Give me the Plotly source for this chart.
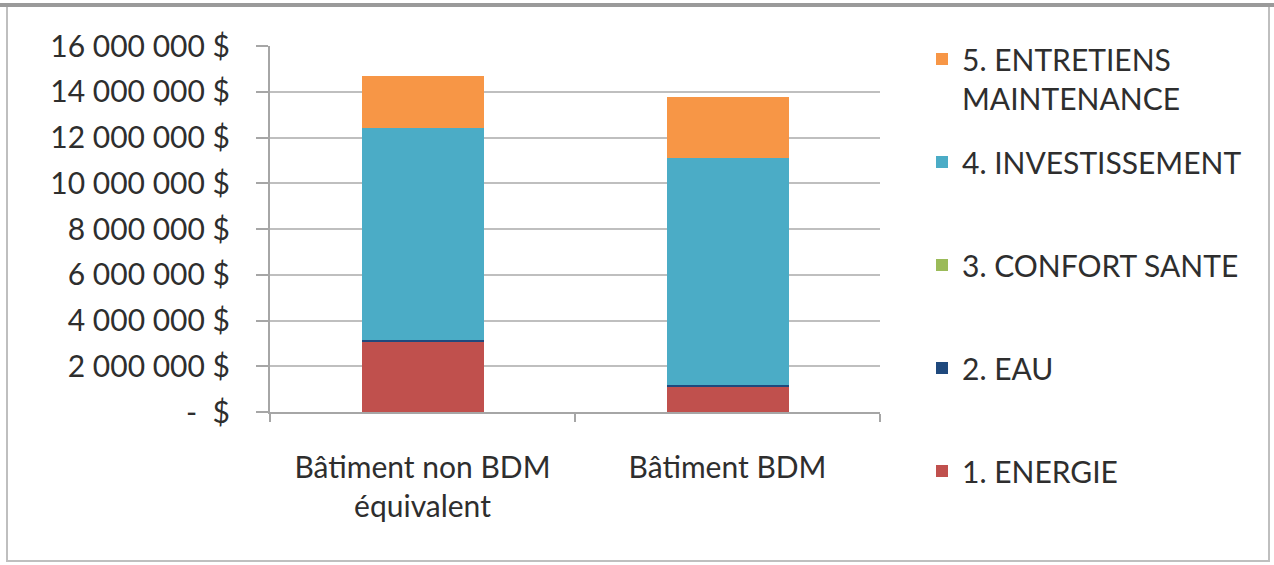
import plotly.graph_objects as go

categories = ["Bâtiment non BDM<br>équivalent", "Bâtiment BDM"]
energie = [3100000, 1110000]
eau = [60000, 50000]
confort = [0, 0]
investissement = [9270000, 9960000]
entretiens = [2270000, 2640000]

series_names = ["1. ENERGIE<br> ", "2. EAU<br> ", "3. CONFORT SANTE<br> ",
                "4. INVESTISSEMENT<br> ", "5. ENTRETIENS<br>MAINTENANCE"]
series_values = [energie, eau, confort, investissement, entretiens]
series_colors = ["#C0504D", "#1F497D", "#9BBB59", "#4BACC6", "#F79646"]

tick_vals = [0, 2000000, 4000000, 6000000, 8000000, 10000000, 12000000, 14000000, 16000000]
tick_text = ["-  $", "2 000 000 $", "4 000 000 $", "6 000 000 $", "8 000 000 $",
             "10 000 000 $", "12 000 000 $", "14 000 000 $", "16 000 000 $"]

FONT = "Lato"
TXT = "#2E2E2E"

fig = go.Figure()
n = len(series_names)
for i, (name, vals, col) in enumerate(zip(series_names, series_values, series_colors)):
    fig.add_trace(go.Bar(x=categories, y=vals, name=name, marker_color=col,
                         marker_line_width=0, legendgroup=name,
                         legendrank=1000 - i))

W, H = 1274, 565
L, R, T, B = 270, 394, 46, 153
pw, ph = W - L - R, H - T - B

def px_x(p):
    return (p - L) / pw

def px_y(p):
    return (H - B - p) / ph

fig.update_layout(
    width=W, height=H,
    margin=dict(l=L, r=R, t=T, b=B),
    barmode="stack", bargap=0.6,
    plot_bgcolor="white", paper_bgcolor="white",
    font=dict(family=FONT, size=30, color=TXT),
    showlegend=True,
    legend=dict(x=px_x(922), y=px_y(33), xanchor="left", yanchor="top",
                traceorder="grouped", valign="top", tracegroupgap=22,
                maxheight=560,
                font=dict(family=FONT, size=30, color=TXT),
                itemwidth=30, bgcolor="rgba(0,0,0,0)"),
    xaxis=dict(showline=True, linecolor="#A6A6A6", linewidth=2,
               ticks="outside", ticklen=8, tickcolor="#A6A6A6", tickwidth=2,
               tickson="boundaries", ticklabelstandoff=28,
               tickfont=dict(family=FONT, size=30, color=TXT)),
    yaxis=dict(range=[0, 16000000], tickvals=tick_vals, ticktext=tick_text,
               showgrid=True, gridcolor="#BFBFBF", gridwidth=2,
               showline=True, linecolor="#A6A6A6", linewidth=2,
               ticks="outside", ticklen=12, tickcolor="#A6A6A6", tickwidth=2,
               ticklabelstandoff=20, zeroline=False,
               tickfont=dict(family=FONT, size=30, color=TXT)),
    shapes=[
        dict(type="rect", xref="paper", yref="paper",
             x0=px_x(7), x1=px_x(1269), y0=px_y(561), y1=px_y(6),
             line=dict(color="#BFBFBF", width=2), fillcolor="rgba(0,0,0,0)"),
        dict(type="line", xref="paper", yref="paper",
             x0=px_x(0), x1=px_x(1274), y0=px_y(5), y1=px_y(5),
             line=dict(color="#9A9A9A", width=4)),
    ],
)

fig.write_html("out.html", config={"displayModeBar": False},
               post_script="document.body.style.margin='0';")
